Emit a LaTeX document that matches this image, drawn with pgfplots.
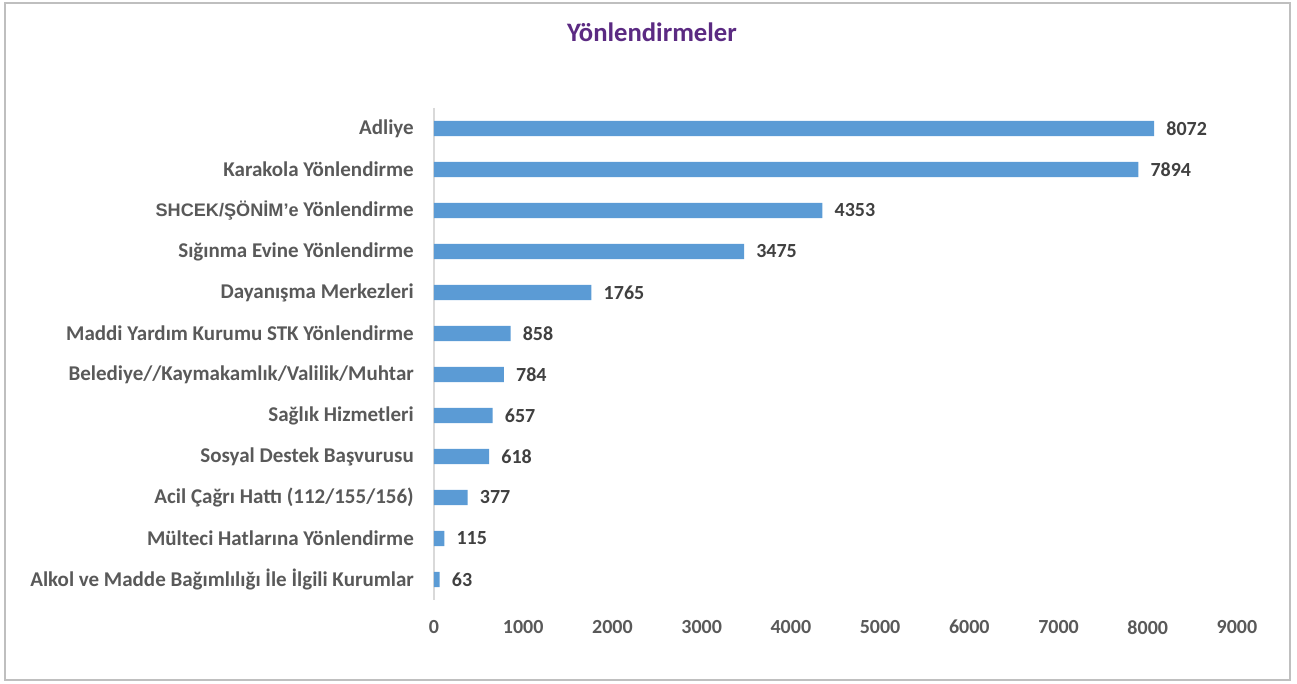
\documentclass[border=0pt]{standalone}
\usepackage{fontspec}
\setmainfont{Carlito}
\newfontfamily\arialf{Liberation Sans}
\usepackage{pgfplots}
\pgfplotsset{compat=1.18}
\definecolor{barblue}{HTML}{5B9BD5}
\definecolor{labelgray}{HTML}{595959}
\definecolor{valgray}{HTML}{404040}
\definecolor{titlepurple}{HTML}{5B2A82}
\definecolor{framegray}{HTML}{BFBFBF}
\definecolor{axisgray}{HTML}{D9D9D9}
% 1 px of the reference = 0.75pt
\newcommand{\px}[1]{#1*0.75pt}

\pgfplotstableread{
idx value
0  8072
1  7894
2  4353
3  3475
4  1765
5  858
6  784
7  657
8  618
9  377
10 115
11 63
}\yonlendirme

\begin{document}
\begin{tikzpicture}
\path[use as bounding box] (\px{-434},\px{-84}) rectangle (\px{863},\px{600});
\draw[framegray, line width=1pt] (\px{-429},\px{-80}) rectangle (\px{856},\px{597});
\node[font=\fontsize{20}{24}\selectfont\bfseries, text=titlepurple] at (\px{218},\px{568}) {Yönlendirmeler};
\begin{axis}[
    xbar,
    scale only axis,
    width=602.25pt,
    height=369pt,
    xmin=0, xmax=9000,
    ymin=-0.5, ymax=11.5,
    y dir=reverse,
    xtick={0,1000,...,9000},
    ytick={0,...,11},
    yticklabels={
        Adliye,
        Karakola Yönlendirme,
        {{\arialf\fontsize{13.6}{16}\selectfont SHCEK/ŞÖNİM’e} Yönlendirme},
        Sığınma Evine Yönlendirme,
        Dayanışma Merkezleri,
        Maddi Yardım Kurumu STK Yönlendirme,
        Belediye//Kaymakamlık/Valilik/Muhtar,
        Sağlık Hizmetleri,
        Sosyal Destek Başvurusu,
        Acil Çağrı Hattı (112/155/156),
        Mülteci Hatlarına Yönlendirme,
        Alkol ve Madde Bağımlılığı İle İlgili Kurumlar
    },
    axis line style={draw=none},
    tick style={draw=none},
    major tick length=0pt,
    /pgf/number format/assume math mode=true,
    /pgf/number format/1000 sep={},
    yticklabel style={font=\fontsize{15.75}{18}\selectfont\bfseries, text=labelgray,
        anchor=east, inner sep=0pt, xshift=-15pt},
    xticklabel style={font=\fontsize{15}{18}\selectfont\bfseries, text=labelgray,
        anchor=north, inner sep=0pt, yshift=-15pt},
    bar width=11.5pt,
    point meta=x,
    nodes near coords,
    nodes near coords style={font=\fontsize{15}{18}\selectfont\bfseries, text=valgray,
        anchor=west, inner sep=0pt, xshift=9pt},
    clip=false,
]
\draw[axisgray, line width=1pt] (axis cs:0,-0.5) -- (axis cs:0,11.5);
\addplot[fill=barblue, draw=none] table[x=value, y=idx] {\yonlendirme};
\end{axis}
\end{tikzpicture}
\end{document}
